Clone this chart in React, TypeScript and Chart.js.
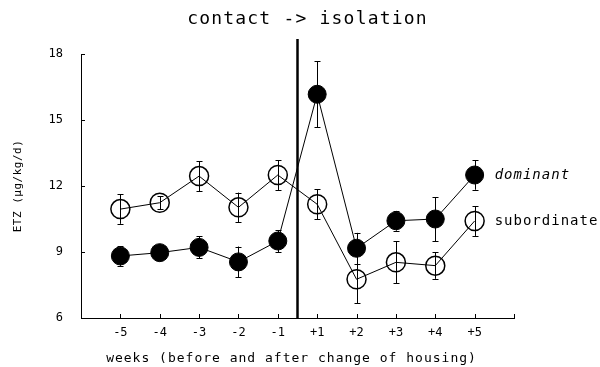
import React, { useEffect, useRef } from 'react';
import { Chart, registerables } from 'chart.js';

Chart.register(...registerables);

// ---- data ----
const weekLabels = ['-5', '-4', '-3', '-2', '-1', '+1', '+2', '+3', '+4', '+5'];
const dominantValues = [8.82, 8.97, 9.21, 8.55, 9.5, 16.17, 9.17, 10.42, 10.5, 12.5];
const dominantErrors = [0.45, 0.3, 0.5, 0.7, 0.5, 1.5, 0.7, 0.45, 1.0, 0.67];
const subordinateValues = [10.95, 11.24, 12.45, 11.03, 12.5, 11.17, 7.76, 8.53, 8.38, 10.41];
const subordinateErrors = [0.67, 0.3, 0.68, 0.67, 0.68, 0.68, 1.1, 0.95, 0.6, 0.68];
const seriesNames = ['dominant', 'subordinate'];
const yTickValues = [6, 9, 12, 15, 18];
const changeOfHousingPosition = 4.5;
const chartTitle = 'contact -> isolation';
const xTitle = 'weeks (before and after change of housing)';
const yTitle = 'ETZ (\u00b5g/kg/d)';

const FONT = '"DejaVu Sans Mono", monospace';

const decorPlugin = {
  id: 'decor',
  beforeDatasetsDraw(chart: any) {
    const ctx = chart.ctx;
    const ys = chart.scales.y;
    chart.data.datasets.forEach((ds: any, di: number) => {
      const meta = chart.getDatasetMeta(di);
      ctx.save();
      ctx.strokeStyle = '#000';
      ctx.lineWidth = 1;
      meta.data.forEach((pt: any, i: number) => {
        const v = ds.data[i].y;
        const e = ds.errors[i];
        const yTop = ys.getPixelForValue(v + e);
        const yBot = ys.getPixelForValue(v - e);
        const px = Math.round(pt.x) + 0.5;
        ctx.beginPath();
        ctx.moveTo(px, yTop);
        ctx.lineTo(px, yBot);
        ctx.moveTo(px - 3, Math.round(yTop) + 0.5);
        ctx.lineTo(px + 3, Math.round(yTop) + 0.5);
        ctx.moveTo(px - 3, Math.round(yBot) + 0.5);
        ctx.lineTo(px + 3, Math.round(yBot) + 0.5);
        ctx.stroke();
      });
      ctx.restore();
    });
  },
  afterDraw(chart: any) {
    const ctx = chart.ctx;
    const xs = chart.scales.x;
    const ys = chart.scales.y;
    const area = chart.chartArea;
    ctx.save();
    ctx.strokeStyle = '#000';
    ctx.fillStyle = '#000';
    ctx.lineWidth = 1;
    // inward tick marks
    ctx.beginPath();
    yTickValues.forEach((v) => {
      const y = Math.round(ys.getPixelForValue(v)) + 0.5;
      ctx.moveTo(area.left, y);
      ctx.lineTo(area.left + 4, y);
    });
    xs.ticks.forEach((t: any) => {
      if (t.value <= xs.min) return;
      const x = Math.round(xs.getPixelForValue(t.value)) + 0.5;
      ctx.moveTo(x, area.bottom);
      ctx.lineTo(x, area.bottom - 4);
    });
    ctx.stroke();
    // vertical change-of-housing line
    const vx = xs.getPixelForValue(changeOfHousingPosition);
    ctx.lineWidth = 2.5;
    ctx.beginPath();
    ctx.moveTo(vx, 39);
    ctx.lineTo(vx, area.bottom);
    ctx.stroke();

    // title
    ctx.textBaseline = 'middle';
    ctx.textAlign = 'center';
    ctx.font = `18px ${FONT}`;
    (ctx as any).letterSpacing = '1.2px';
    ctx.fillText(chartTitle, (area.left + area.right) / 2 + 10, 19);

    // x title
    ctx.font = `13px ${FONT}`;
    (ctx as any).letterSpacing = '1px';
    ctx.fillText(xTitle, (area.left + area.right) / 2 - 6, 359);

    // y title
    ctx.save();
    ctx.translate(18, (area.top + area.bottom) / 2);
    ctx.rotate(-Math.PI / 2);
    ctx.font = `11px ${FONT}`;
    (ctx as any).letterSpacing = '0.5px';
    ctx.fillText(yTitle, 0, 0);
    ctx.restore();

    // series labels next to last points
    ctx.textAlign = 'left';
    chart.data.datasets.forEach((ds: any, di: number) => {
      const meta = chart.getDatasetMeta(di);
      const last = meta.data[meta.data.length - 1];
      ctx.font = `${ds.labelItalic ? 'italic ' : ''}14px ${FONT}`;
      (ctx as any).letterSpacing = '1px';
      ctx.fillText(ds.label, last.x + 20, last.y);
    });
    (ctx as any).letterSpacing = '0px';
    ctx.restore();
  },
};

export default function App() {
  const ref = useRef<HTMLCanvasElement>(null);
  useEffect(() => {
    const chart = new Chart(ref.current as HTMLCanvasElement, {
      type: 'line',
      data: {
        datasets: [
          {
            label: seriesNames[0],
            data: dominantValues.map((v, i) => ({ x: i, y: v })),
            errors: dominantErrors,
            labelItalic: true,
            borderColor: '#000',
            borderWidth: 1,
            pointRadius: 9,
            pointBorderWidth: 1,
            pointBackgroundColor: '#000',
            pointBorderColor: '#000',
            tension: 0,
            fill: false,
          } as any,
          {
            label: seriesNames[1],
            data: subordinateValues.map((v, i) => ({ x: i, y: v })),
            errors: subordinateErrors,
            labelItalic: false,
            borderColor: '#000',
            borderWidth: 1,
            pointRadius: 9.5,
            pointBorderWidth: 1.5,
            pointBackgroundColor: 'rgba(0,0,0,0)',
            pointBorderColor: '#000',
            tension: 0,
            fill: false,
          } as any,
        ],
      },
      options: {
        responsive: false,
        animation: false,
        layout: { padding: { top: 54, right: 86, bottom: 0, left: 0 } },
        plugins: {
          legend: { display: false },
          tooltip: { enabled: false },
          title: { display: false },
        },
        scales: {
          x: {
            type: 'linear',
            min: -1,
            max: 10,
            afterFit: (s: any) => {
              s.height = 49;
            },
            grid: { drawOnChartArea: false, drawTicks: false },
            border: { display: true, color: '#000', width: 1 },
            ticks: {
              stepSize: 1,
              autoSkip: false,
              maxRotation: 0,
              padding: 8,
              color: '#000',
              font: { family: FONT, size: 12 },
              callback: (v: any) => {
                const n = Number(v);
                return Number.isInteger(n) && n >= 0 && n < weekLabels.length ? weekLabels[n] : '';
              },
            },
          },
          y: {
            min: 6,
            max: 18,
            afterFit: (s: any) => {
              s.width = 81;
            },
            grid: { drawOnChartArea: false, drawTicks: false },
            border: { display: true, color: '#000', width: 1 },
            ticks: {
              stepSize: 3,
              padding: 18,
              color: '#000',
              font: { family: FONT, size: 12 },
            },
          },
        },
      } as any,
      plugins: [decorPlugin],
    });
    return () => chart.destroy();
  }, []);
  return (
    <div style={{ position: 'absolute', left: 0, top: 0, width: 600, height: 367, background: '#fff' }}>
      <canvas ref={ref} width={600} height={367} style={{ display: 'block' }} />
    </div>
  );
}
